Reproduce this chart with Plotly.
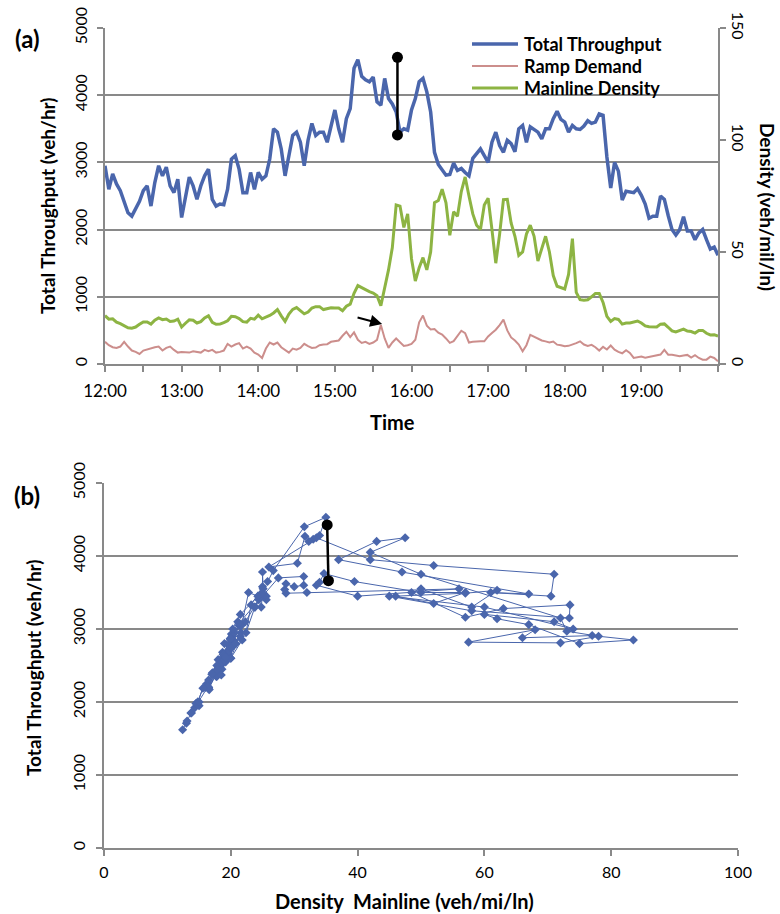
import pandas as pd
import plotly.graph_objects as go

# ---------------- data (3-minute samples 12:00-20:00) ----------------
times = pd.date_range("2000-01-01 12:00", "2000-01-01 20:00", freq="3min")

total_throughput = [
    2950, 2600, 2830, 2680, 2580, 2400, 2250, 2200, 2300, 2420,
    2580, 2650, 2350, 2700, 2950, 2800, 2930, 2650, 2550, 2750,
    2180, 2500, 2780, 2650, 2450, 2650, 2800, 2900, 2450, 2350,
    2380, 2370, 2600, 3050, 3100, 2900, 2550, 2550, 2850, 2600,
    2850, 2750, 2800, 3050, 3500, 3450, 3200, 2800, 3100, 3400,
    3450, 3300, 2950, 3330, 3580, 3400, 3450, 3450, 3300, 3550,
    3780, 3500, 3300, 3650, 3800, 4400, 4530, 4280, 4230, 4200,
    4270, 3900, 3850, 4250, 3950, 3870, 3750, 3450, 3500, 3480,
    3780, 3950, 4200, 4250, 4050, 3750, 3150, 2970, 2900, 2810,
    2820, 2990, 2880, 2910, 2850, 2800, 3060, 3140, 3200, 3100,
    3000, 3300, 3450, 3250, 3150, 3330, 3280, 3160, 3500, 3550,
    3300, 3530, 3490, 3450, 3350, 3500, 3500, 3650, 3760, 3640,
    3600, 3450, 3550, 3500, 3490, 3540, 3620, 3580, 3600, 3720,
    3700, 3080, 2620, 3000, 2870, 2440, 2570, 2560, 2550, 2610,
    2510, 2380, 2170, 2200, 2200, 2500, 2450, 2210, 2000, 1920,
    2000, 2190, 1980, 1980, 1850, 1950, 2000, 1850, 1710, 1740,
    1620,
]

ramp_demand = [
    330, 280, 250, 240, 260, 330, 260, 200, 180, 150,
    200, 220, 230, 250, 260, 200, 240, 260, 210, 170,
    180, 175, 170, 190, 175, 170, 210, 190, 210, 170,
    180, 200, 300, 260, 290, 310, 230, 260, 230, 170,
    140, 90, 230, 320, 290, 320, 250, 213, 170, 230,
    213, 240, 300, 265, 238, 245, 280, 290, 295, 330,
    337, 350, 420, 480, 400, 470, 360, 313, 330, 300,
    320, 360, 580, 380, 240, 320, 380, 320, 270, 280,
    300, 360, 620, 720, 570, 515, 520, 465, 437, 380,
    315, 340, 410, 495, 460, 320, 330, 337, 337, 337,
    410, 462, 510, 580, 660, 500, 395, 350, 290, 190,
    280, 435, 405, 375, 350, 337, 320, 335, 288, 280,
    265, 270, 285, 310, 337, 290, 270, 285, 250, 200,
    255, 215, 275, 213, 180, 160, 205, 165, 90, 105,
    110, 95, 105, 112, 125, 140, 210, 139, 139, 130,
    115, 125, 135, 95, 130, 90, 65, 65, 110, 90,
    40,
]

mainline_density = [
    21.6, 20.0, 20.2, 18.7, 18.0, 17.1, 16.2, 16.0, 16.5, 17.7,
    18.8, 18.8, 17.8, 19.6, 20.6, 19.8, 20.1, 19.0, 19.2, 20.0,
    16.5, 18.2, 19.7, 19.5, 18.3, 18.9, 20.6, 21.5, 18.6, 17.7,
    17.8, 18.5, 19.3, 21.3, 21.1, 20.3, 18.9, 18.7, 20.4, 20.0,
    21.8, 20.2, 20.8, 21.7, 22.8, 24.3, 21.5, 19.0, 22.3, 24.4,
    25.2, 23.8, 22.4, 23.2, 25.0, 25.6, 25.6, 24.3, 24.8, 25.1,
    25.0, 25.0, 23.8, 25.8, 26.7, 31.6, 35.0, 34.0, 33.0, 32.3,
    31.7, 30.5, 26.0, 33.5, 42.0, 52.0, 71.0, 70.5, 61.0, 67.0,
    47.0, 37.0, 43.0, 47.5, 42.0, 50.0, 72.0, 73.0, 78.0, 72.0,
    57.5, 68.0, 66.0, 77.0, 83.5, 75.0, 67.0, 62.0, 60.0, 71.0,
    74.0, 60.0, 45.0, 58.0, 73.4, 73.5, 63.0, 57.0, 48.5, 50.0,
    58.0, 62.0, 57.0, 46.0, 52.0, 57.0, 50.0, 39.5, 34.7, 34.0,
    33.5, 40.0, 56.0, 32.0, 28.7, 28.5, 28.7, 30.0, 31.5, 31.5,
    27.5, 21.3, 19.0, 20.3, 19.9, 17.8, 18.3, 18.3, 18.6, 19.2,
    18.3, 17.0, 16.6, 16.5, 16.5, 17.8, 17.9, 16.4, 14.8, 14.3,
    14.8, 15.6, 14.7, 14.5, 13.8, 15.0, 15.0, 13.7, 13.0, 13.1,
    12.4,
]

# annotation marks (capacity drop) and arrow
drop_time = ["2000-01-01 15:49", "2000-01-01 15:49"]
drop_throughput_a = [4564, 3408]
drop_density_b = [35.2, 35.4]
drop_throughput_b = [4425, 3662]
arrow_tail = ["2000-01-01 15:16:36", 699]
arrow_head = ["2000-01-01 15:37", 595]

hour_ticks = pd.date_range("2000-01-01 12:00", "2000-01-01 20:00", freq="30min")
hour_labels = ["12:00", "", "13:00", "", "14:00", "", "15:00", "", "16:00", "",
               "17:00", "", "18:00", "", "19:00", "", ""]

series_names = ["Total Throughput", "Ramp Demand", "Mainline Density"]

# ---------------- styling ----------------
W, H = 780, 914
FONT = "Lato"
GRID = "#898989"
BLUE = "#4A66AC"
PINK = "#CC8E8C"
GREEN = "#8DB443"
COLORS = [BLUE, PINK, GREEN]
WIDTHS = [3.5, 2, 3]


def px_x(p):
    return p / W


def px_y(p):
    return 1 - p / H


fig = go.Figure()

fig.add_trace(go.Scatter(x=times, y=total_throughput, name=series_names[0],
                         mode="lines", line=dict(color=BLUE, width=WIDTHS[0]),
                         showlegend=False, xaxis="x", yaxis="y"))
fig.add_trace(go.Scatter(x=times, y=ramp_demand, name=series_names[1],
                         mode="lines", line=dict(color=PINK, width=WIDTHS[1]),
                         showlegend=False, xaxis="x", yaxis="y"))
fig.add_trace(go.Scatter(x=times, y=mainline_density, name=series_names[2],
                         mode="lines", line=dict(color=GREEN, width=WIDTHS[2]),
                         showlegend=False, xaxis="x", yaxis="y2"))
fig.add_trace(go.Scatter(x=drop_time, y=drop_throughput_a, mode="lines+markers",
                         line=dict(color="black", width=2.5),
                         marker=dict(color="black", size=11),
                         showlegend=False, xaxis="x", yaxis="y"))

# bottom: fundamental diagram
fig.add_trace(go.Scatter(x=mainline_density, y=total_throughput, mode="lines+markers",
                         line=dict(color=BLUE, width=1),
                         marker=dict(symbol="diamond", size=7, color=BLUE),
                         showlegend=False, xaxis="x2", yaxis="y3"))
fig.add_trace(go.Scatter(x=drop_density_b, y=drop_throughput_b, mode="lines+markers",
                         line=dict(color="black", width=2.5),
                         marker=dict(color="black", size=11),
                         showlegend=False, xaxis="x2", yaxis="y3"))

tickfont = dict(family=FONT, size=16, color="black")
axis_common = dict(showline=True, linecolor=GRID, linewidth=1.5, ticks="outside",
                   ticklen=6, tickcolor=GRID, tickwidth=1.5, zeroline=False,
                   automargin=False)

fig.update_layout(
    width=W, height=H,
    margin=dict(l=0, r=0, t=0, b=0),
    paper_bgcolor="white", plot_bgcolor="white",
    font=dict(family=FONT, color="black"),
    showlegend=False,
    xaxis=dict(domain=[px_x(105), px_x(718)], anchor="y", type="date",
               range=["2000-01-01 12:00", "2000-01-01 20:00"],
               tickvals=list(hour_ticks), ticktext=hour_labels,
               showgrid=False, ticklabelstandoff=5,
               tickfont=dict(family=FONT, size=17, color="black"), **axis_common),
    yaxis=dict(domain=[px_y(364), px_y(28)], anchor="x", range=[0, 5000], dtick=1000,
               tickangle=-90, showgrid=True, gridcolor=GRID, gridwidth=1.5,
               ticklabelstandoff=4, tickfont=tickfont, **axis_common),
    yaxis2=dict(overlaying="y", side="right", anchor="x", range=[0, 150], dtick=50,
                tickangle=90, showgrid=False, tickfont=tickfont, **axis_common),
    xaxis2=dict(domain=[px_x(104), px_x(738)], anchor="y3", range=[0, 100], dtick=20,
                showgrid=False, ticklabelstandoff=3, tickfont=tickfont, **axis_common),
    yaxis3=dict(domain=[px_y(848), px_y(483)], anchor="x2", range=[0, 5000], dtick=1000,
                tickangle=-90, showgrid=True, gridcolor=GRID, gridwidth=1.5,
                ticklabelstandoff=5, tickfont=tickfont, **axis_common),
)

# legend (drawn as keys + text, matching the reference's placement)
legend_rows_y = [44, 66, 88]
for name, color, width, ry in zip(series_names, COLORS, WIDTHS, legend_rows_y):
    fig.add_shape(type="line", xref="paper", yref="paper",
                  x0=px_x(472), x1=px_x(518), y0=px_y(ry), y1=px_y(ry),
                  line=dict(color=color, width=width))
    fig.add_annotation(text=name, xref="paper", yref="paper", x=px_x(522), y=px_y(ry),
                       xanchor="left", yanchor="middle", showarrow=False,
                       font=dict(family=FONT, size=18, color="black", weight="bold"))

title_font = dict(family=FONT, size=19, color="black", weight="bold")
annotations = [
    dict(text="(a)", x=px_x(27), y=px_y(38), font=dict(family=FONT, size=24, color="black", weight="bold")),
    dict(text="(b)", x=px_x(27), y=px_y(495), font=dict(family=FONT, size=24, color="black", weight="bold")),
    dict(text="Total Throughput (veh/hr)", x=px_x(47), y=px_y(206), textangle=-90, font=title_font),
    dict(text="Density (veh/mil/ln)", x=px_x(768), y=px_y(207), textangle=90, font=title_font),
    dict(text="Time", x=px_x(392), y=px_y(422), font=dict(family=FONT, size=20, color="black", weight="bold")),
    dict(text="Total Throughput (veh/hr)", x=px_x(33), y=px_y(668), textangle=-90, font=title_font),
    dict(text="Density\u00a0 Mainline (veh/mi/ln)", x=px_x(404), y=px_y(901),
         font=dict(family=FONT, size=20, color="black", weight="bold")),
]
for a in annotations:
    a.update(xref="paper", yref="paper", showarrow=False, xanchor="center", yanchor="middle")
    fig.add_annotation(**a)

fig.add_annotation(x=arrow_head[0], y=arrow_head[1], ax=arrow_tail[0], ay=arrow_tail[1],
                   xref="x", yref="y", axref="x", ayref="y", showarrow=True,
                   arrowhead=2, arrowsize=1.2, arrowwidth=2, arrowcolor="black", text="")

fig.write_html("out.html")
